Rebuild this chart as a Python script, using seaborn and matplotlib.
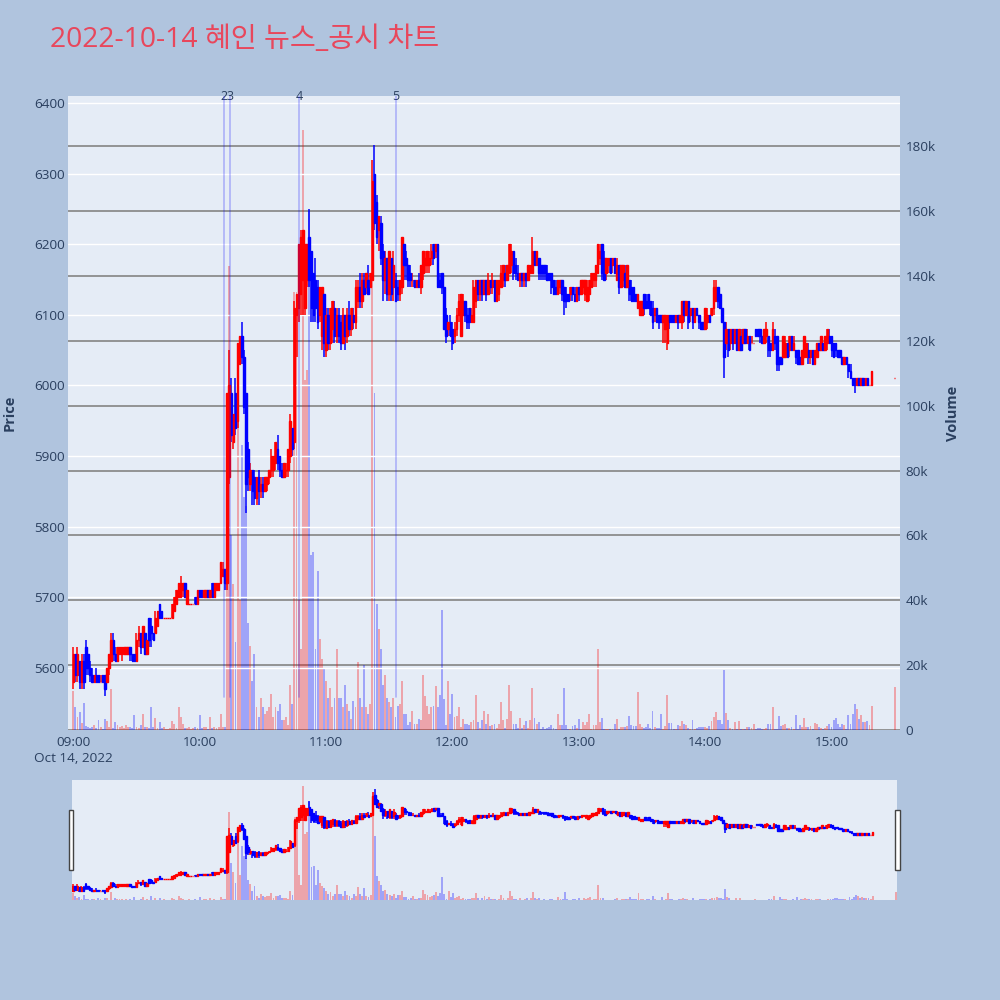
import numpy as np
import pandas as pd
import matplotlib
matplotlib.use("Agg")
import matplotlib.pyplot as plt
from matplotlib.patches import Rectangle
import seaborn as sns

TITLE = "2022-10-14 혜인 뉴스_공시 차트"

# one candle per minute from 09:00 to 15:19, then the 15:30 closing auction
opens = [
    5580, 5620, 5590, 5610, 5580, 5610, 5630, 5620, 5600, 5590,
    5580, 5590, 5590, 5580, 5590, 5590, 5580, 5600, 5610, 5640,
    5620, 5610, 5620, 5620, 5620, 5620, 5620, 5630, 5620, 5620,
    5610, 5640, 5650, 5630, 5650, 5620, 5670, 5660, 5650, 5650,
    5660, 5690, 5680, 5670, 5670, 5670, 5670, 5670, 5680, 5690,
    5700, 5700, 5710, 5720, 5690, 5690, 5690, 5690, 5700, 5690,
    5710, 5710, 5700, 5700, 5710, 5700, 5720, 5700, 5710, 5710,
    5720, 5730, 5740, 5720, 5870, 5990, 5920, 5990, 5950, 6030,
    6070, 6040, 5990, 5910, 5860, 5880, 5870, 5840, 5870, 5850,
    5860, 5850, 5860, 5870, 5880, 5880, 5890, 5910, 5900, 5880,
    5870, 5880, 5880, 5900, 5940, 5920, 6100, 6110, 6130, 6150,
    6110, 6150, 6210, 6190, 6160, 6150, 6140, 6100, 6070, 6130,
    6050, 6100, 6060, 6080, 6110, 6070, 6100, 6090, 6060, 6100,
    6070, 6100, 6080, 6100, 6090, 6120, 6140, 6120, 6150, 6140,
    6150, 6140, 6150, 6300, 6260, 6220, 6230, 6190, 6150, 6180,
    6130, 6180, 6140, 6150, 6140, 6130, 6140, 6200, 6180, 6170,
    6160, 6150, 6150, 6140, 6150, 6140, 6160, 6170, 6170, 6170,
    6180, 6200, 6190, 6200, 6150, 6160, 6140, 6100, 6080, 6090,
    6080, 6070, 6080, 6100, 6070, 6100, 6120, 6100, 6110, 6090,
    6090, 6120, 6150, 6130, 6150, 6130, 6150, 6130, 6150, 6140,
    6150, 6120, 6130, 6140, 6150, 6160, 6150, 6160, 6170, 6190,
    6170, 6160, 6150, 6160, 6150, 6160, 6150, 6160, 6160, 6190,
    6170, 6180, 6170, 6170, 6170, 6160, 6160, 6160, 6150, 6140,
    6130, 6140, 6150, 6140, 6130, 6130, 6130, 6140, 6130, 6120,
    6140, 6130, 6140, 6130, 6120, 6130, 6140, 6150, 6150, 6160,
    6180, 6200, 6180, 6160, 6170, 6180, 6170, 6180, 6150, 6170,
    6140, 6150, 6160, 6140, 6150, 6140, 6140, 6130, 6110, 6100,
    6100, 6130, 6120, 6130, 6120, 6110, 6100, 6110, 6100, 6100,
    6090, 6080, 6060, 6100, 6100, 6100, 6090, 6100, 6090, 6090,
    6120, 6100, 6120, 6100, 6110, 6090, 6110, 6100, 6090, 6090,
    6080, 6090, 6100, 6100, 6110, 6120, 6140, 6130, 6110, 6090,
    6060, 6080, 6060, 6080, 6060, 6080, 6050, 6070, 6060, 6080,
    6060, 6070, 6060, 6060, 6080, 6080, 6080, 6070, 6060, 6070,
    6070, 6060, 6050, 6070, 6070, 6040, 6040, 6040, 6040, 6060,
    6050, 6070, 6050, 6050, 6050, 6040, 6030, 6040, 6040, 6050,
    6040, 6050, 6030, 6040, 6060, 6050, 6060, 6050, 6060, 6070,
    6070, 6060, 6060, 6050, 6050, 6040, 6030, 6040, 6030, 6020,
    6010, 6010, 6000, 6010, 6000, 6010, 6000, 6010, 6000, 6000,
    6010,
]
closes = [
    5620, 5590, 5620, 5580, 5610, 5580, 5600, 5600, 5590, 5580,
    5590, 5580, 5580, 5580, 5580, 5570, 5600, 5620, 5640, 5620,
    5610, 5630, 5630, 5630, 5630, 5630, 5630, 5620, 5610, 5610,
    5640, 5650, 5630, 5660, 5620, 5640, 5640, 5650, 5640, 5670,
    5680, 5670, 5670, 5670, 5670, 5670, 5670, 5690, 5700, 5710,
    5720, 5720, 5720, 5700, 5710, 5690, 5690, 5690, 5690, 5710,
    5700, 5700, 5710, 5710, 5700, 5710, 5700, 5720, 5720, 5720,
    5750, 5740, 5720, 5990, 6000, 5930, 5960, 5940, 6060, 6070,
    6040, 5970, 5860, 5870, 5880, 5850, 5840, 5870, 5850, 5860,
    5850, 5870, 5870, 5880, 5900, 5900, 5920, 5890, 5880, 5870,
    5890, 5880, 5910, 5950, 5910, 6110, 6130, 6200, 6210, 6220,
    6200, 6200, 6150, 6110, 6100, 6110, 6090, 6140, 6140, 6060,
    6100, 6060, 6110, 6120, 6070, 6100, 6070, 6060, 6100, 6070,
    6100, 6080, 6110, 6090, 6140, 6140, 6120, 6150, 6130, 6160,
    6130, 6160, 6290, 6230, 6210, 6240, 6180, 6150, 6180, 6130,
    6190, 6130, 6170, 6120, 6130, 6150, 6210, 6170, 6170, 6150,
    6150, 6150, 6140, 6150, 6140, 6170, 6190, 6180, 6190, 6180,
    6190, 6180, 6200, 6140, 6140, 6140, 6080, 6070, 6090, 6070,
    6060, 6080, 6100, 6120, 6130, 6120, 6100, 6090, 6090, 6100,
    6140, 6150, 6130, 6150, 6130, 6150, 6130, 6150, 6140, 6150,
    6120, 6150, 6150, 6160, 6170, 6150, 6170, 6200, 6190, 6160,
    6160, 6150, 6160, 6150, 6160, 6150, 6170, 6170, 6190, 6170,
    6190, 6160, 6160, 6160, 6160, 6150, 6150, 6140, 6130, 6130,
    6150, 6150, 6130, 6120, 6120, 6120, 6140, 6130, 6120, 6140,
    6130, 6150, 6150, 6150, 6140, 6150, 6160, 6160, 6170, 6200,
    6190, 6160, 6150, 6180, 6180, 6160, 6180, 6160, 6170, 6140,
    6170, 6170, 6140, 6170, 6130, 6120, 6120, 6120, 6130, 6120,
    6120, 6110, 6110, 6110, 6100, 6090, 6110, 6090, 6090, 6090,
    6100, 6100, 6100, 6090, 6090, 6090, 6100, 6090, 6100, 6120,
    6100, 6120, 6090, 6110, 6090, 6110, 6100, 6090, 6080, 6080,
    6110, 6100, 6090, 6110, 6140, 6140, 6120, 6110, 6090, 6040,
    6080, 6050, 6080, 6060, 6080, 6050, 6080, 6050, 6080, 6060,
    6070, 6050, 6060, 6060, 6070, 6070, 6070, 6060, 6080, 6080,
    6050, 6050, 6080, 6060, 6030, 6030, 6030, 6070, 6060, 6040,
    6070, 6050, 6060, 6040, 6030, 6030, 6050, 6070, 6060, 6040,
    6050, 6030, 6050, 6060, 6050, 6070, 6050, 6070, 6080, 6060,
    6050, 6040, 6050, 6040, 6040, 6030, 6040, 6030, 6020, 6010,
    6000, 6000, 6010, 6000, 6010, 6000, 6010, 6000, 6000, 6020,
    6010,
]
highs = [
    5630, 5620, 5630, 5610, 5620, 5620, 5640, 5620, 5610, 5600,
    5590, 5600, 5590, 5590, 5590, 5590, 5600, 5620, 5650, 5650,
    5630, 5630, 5630, 5630, 5630, 5630, 5630, 5630, 5620, 5620,
    5650, 5660, 5650, 5660, 5650, 5640, 5670, 5670, 5650, 5680,
    5680, 5690, 5680, 5670, 5670, 5670, 5670, 5690, 5700, 5710,
    5720, 5730, 5720, 5720, 5710, 5690, 5690, 5690, 5700, 5710,
    5710, 5710, 5710, 5710, 5710, 5710, 5720, 5720, 5720, 5720,
    5750, 5750, 5740, 5990, 6050, 6010, 5960, 6010, 6060, 6070,
    6090, 6050, 5990, 5920, 5890, 5880, 5880, 5870, 5880, 5870,
    5870, 5870, 5870, 5880, 5910, 5900, 5920, 5930, 5900, 5890,
    5890, 5890, 5910, 5960, 5940, 6120, 6130, 6200, 6220, 6220,
    6200, 6200, 6250, 6190, 6160, 6180, 6150, 6140, 6140, 6130,
    6110, 6110, 6110, 6120, 6120, 6110, 6110, 6100, 6110, 6100,
    6110, 6120, 6110, 6110, 6150, 6150, 6160, 6160, 6160, 6160,
    6170, 6160, 6320, 6340, 6270, 6240, 6240, 6200, 6190, 6180,
    6190, 6180, 6190, 6160, 6150, 6150, 6210, 6200, 6190, 6170,
    6170, 6160, 6150, 6150, 6160, 6170, 6190, 6190, 6190, 6190,
    6200, 6200, 6200, 6200, 6160, 6160, 6140, 6110, 6090, 6100,
    6090, 6090, 6110, 6130, 6130, 6130, 6120, 6110, 6110, 6110,
    6150, 6150, 6150, 6150, 6150, 6150, 6150, 6160, 6150, 6160,
    6150, 6150, 6150, 6170, 6170, 6170, 6170, 6200, 6200, 6190,
    6180, 6170, 6160, 6160, 6160, 6160, 6170, 6170, 6210, 6190,
    6190, 6180, 6170, 6170, 6170, 6170, 6160, 6160, 6150, 6150,
    6150, 6150, 6150, 6140, 6140, 6130, 6140, 6140, 6140, 6140,
    6140, 6150, 6150, 6150, 6150, 6150, 6160, 6160, 6170, 6200,
    6200, 6200, 6190, 6180, 6180, 6180, 6180, 6180, 6180, 6170,
    6170, 6170, 6170, 6170, 6150, 6150, 6140, 6130, 6130, 6120,
    6120, 6130, 6130, 6130, 6120, 6120, 6110, 6110, 6100, 6100,
    6100, 6100, 6100, 6100, 6100, 6100, 6100, 6100, 6100, 6120,
    6120, 6120, 6120, 6110, 6110, 6110, 6110, 6100, 6090, 6090,
    6110, 6110, 6100, 6110, 6150, 6150, 6140, 6130, 6110, 6090,
    6090, 6080, 6080, 6080, 6080, 6080, 6080, 6080, 6080, 6080,
    6080, 6070, 6070, 6060, 6080, 6080, 6080, 6070, 6080, 6090,
    6070, 6060, 6090, 6080, 6070, 6040, 6040, 6070, 6070, 6060,
    6070, 6070, 6070, 6050, 6050, 6040, 6050, 6070, 6060, 6060,
    6050, 6050, 6050, 6060, 6060, 6070, 6060, 6070, 6080, 6080,
    6070, 6060, 6060, 6050, 6050, 6040, 6040, 6040, 6030, 6030,
    6010, 6010, 6010, 6010, 6010, 6010, 6010, 6010, 6000, 6020,
    6010,
]
lows = [
    5570, 5580, 5580, 5570, 5570, 5570, 5590, 5590, 5580, 5580,
    5580, 5580, 5580, 5580, 5580, 5560, 5580, 5590, 5610, 5610,
    5610, 5610, 5620, 5610, 5620, 5620, 5620, 5610, 5610, 5610,
    5610, 5630, 5620, 5630, 5620, 5620, 5630, 5630, 5640, 5650,
    5660, 5670, 5670, 5670, 5670, 5670, 5670, 5670, 5680, 5690,
    5700, 5700, 5700, 5700, 5690, 5690, 5690, 5690, 5690, 5690,
    5700, 5700, 5700, 5700, 5700, 5700, 5700, 5700, 5710, 5710,
    5720, 5730, 5710, 5710, 5860, 5920, 5910, 5930, 5940, 6030,
    6030, 5960, 5820, 5850, 5850, 5830, 5830, 5830, 5830, 5840,
    5840, 5850, 5850, 5860, 5870, 5870, 5880, 5880, 5870, 5870,
    5870, 5870, 5870, 5890, 5900, 5910, 6040, 6090, 6100, 6100,
    6100, 6140, 6140, 6090, 6090, 6090, 6080, 6090, 6050, 6040,
    6040, 6050, 6050, 6060, 6060, 6060, 6060, 6050, 6060, 6050,
    6060, 6070, 6070, 6080, 6080, 6110, 6110, 6110, 6130, 6130,
    6130, 6140, 6150, 6220, 6200, 6190, 6170, 6120, 6130, 6120,
    6120, 6120, 6120, 6120, 6120, 6120, 6130, 6150, 6150, 6140,
    6140, 6140, 6140, 6140, 6140, 6130, 6150, 6160, 6160, 6160,
    6170, 6170, 6180, 6140, 6140, 6130, 6080, 6060, 6070, 6070,
    6050, 6060, 6070, 6090, 6070, 6100, 6090, 6080, 6080, 6090,
    6090, 6110, 6120, 6120, 6120, 6130, 6120, 6130, 6130, 6130,
    6120, 6120, 6120, 6140, 6140, 6140, 6150, 6160, 6160, 6150,
    6150, 6150, 6140, 6140, 6140, 6140, 6150, 6160, 6160, 6170,
    6170, 6150, 6150, 6150, 6150, 6150, 6150, 6130, 6130, 6130,
    6130, 6130, 6120, 6100, 6110, 6120, 6120, 6120, 6120, 6120,
    6120, 6130, 6130, 6120, 6120, 6120, 6140, 6140, 6140, 6160,
    6170, 6150, 6150, 6150, 6160, 6160, 6160, 6160, 6150, 6130,
    6140, 6140, 6140, 6140, 6120, 6120, 6120, 6120, 6110, 6100,
    6100, 6100, 6110, 6110, 6100, 6080, 6090, 6090, 6080, 6090,
    6060, 6060, 6050, 6080, 6090, 6090, 6090, 6080, 6090, 6080,
    6090, 6100, 6080, 6090, 6080, 6090, 6100, 6080, 6080, 6080,
    6080, 6080, 6090, 6100, 6100, 6120, 6110, 6110, 6090, 6010,
    6050, 6040, 6050, 6050, 6060, 6050, 6050, 6050, 6060, 6060,
    6060, 6050, 6060, 6060, 6070, 6070, 6060, 6060, 6060, 6060,
    6040, 6040, 6050, 6050, 6020, 6020, 6030, 6040, 6040, 6040,
    6040, 6050, 6050, 6030, 6030, 6030, 6030, 6040, 6040, 6030,
    6030, 6030, 6030, 6040, 6050, 6050, 6050, 6050, 6050, 6060,
    6040, 6040, 6040, 6040, 6040, 6030, 6030, 6030, 6010, 6010,
    6000, 5990, 6000, 6000, 6000, 6000, 6000, 6000, 6000, 6000,
    6010,
]
volumes = [
    12000, 7000, 4000, 5700, 2300, 8400, 1200, 1000, 600, 1000,
    1500, 500, 3000, 1000, 400, 3500, 2800, 800, 12500, 600,
    2500, 1500, 1000, 1200, 600, 1500, 800, 1000, 500, 4500,
    800, 600, 1500, 5000, 800, 1000, 600, 7200, 800, 3800,
    600, 2500, 500, 1000, 300, 300, 600, 2800, 1700, 600,
    7000, 4000, 1700, 500, 600, 1000, 300, 600, 1000, 500,
    4500, 600, 1000, 1000, 400, 4000, 600, 1000, 500, 800,
    5000, 1000, 1000, 58000, 143000, 60000, 45000, 27000, 100000, 40000,
    88000, 72000, 69000, 33000, 26000, 15000, 23500, 7000, 4000, 10000,
    7000, 5000, 6000, 7000, 11000, 4000, 7000, 6000, 8000, 3000,
    3000, 4000, 1500, 14000, 8000, 135000, 135000, 40000, 25000, 185000,
    108000, 111000, 160000, 54000, 55000, 25000, 49000, 28000, 22000, 19000,
    15000, 10000, 13000, 7000, 10000, 25000, 10000, 10000, 7000, 14000,
    8000, 6000, 3500, 9000, 7000, 21000, 10000, 7000, 20000, 7000,
    5000, 8000, 141000, 104000, 39000, 31000, 25000, 14000, 17000, 10000,
    8500, 7000, 10000, 4000, 7500, 8000, 15000, 5000, 5000, 1500,
    2500, 6000, 2000, 2000, 3500, 3000, 17000, 10500, 7500, 5000,
    7000, 7500, 13500, 7000, 10700, 37000, 9700, 1500, 15000, 5000,
    11000, 4000, 4300, 7000, 1000, 3500, 2000, 2000, 1500, 2500,
    3000, 10700, 2500, 700, 3000, 6000, 2000, 5000, 1200, 1500,
    2000, 500, 2000, 8700, 3000, 500, 3300, 14000, 6000, 2000,
    2000, 700, 3600, 500, 1500, 2800, 700, 3000, 12800, 3800,
    1700, 2500, 300, 1000, 300, 700, 1000, 1500, 500, 300,
    5000, 1500, 1500, 12900, 1500, 300, 300, 1200, 1500, 700,
    3300, 300, 2500, 1500, 2500, 5000, 300, 1500, 1500, 25000,
    2500, 3800, 300, 300, 300, 400, 300, 2000, 3300, 300,
    1000, 1000, 1000, 1200, 4200, 1500, 1200, 1200, 11800, 1700,
    1000, 700, 1000, 2000, 500, 6000, 1000, 700, 700, 5000,
    300, 1200, 10800, 2300, 2300, 300, 300, 1500, 1100, 2800,
    1700, 1500, 700, 300, 3000, 300, 700, 1000, 1000, 1000,
    1000, 700, 1200, 2800, 4000, 5700, 3000, 3000, 2000, 18400,
    5300, 3000, 500, 300, 2500, 300, 2700, 300, 300, 300,
    800, 800, 700, 2000, 300, 700, 700, 300, 300, 500,
    2000, 2000, 7000, 300, 300, 4200, 1300, 1500, 2000, 500,
    700, 1000, 300, 4500, 300, 1500, 1000, 3800, 1000, 1000,
    1200, 300, 2300, 2000, 1000, 500, 300, 700, 1100, 1700,
    900, 3000, 3600, 1700, 900, 1700, 1500, 300, 4500, 2000,
    5000, 8000, 6500, 3500, 4600, 2500, 2500, 2700, 1500, 7300,
    13300,
]
closing_auction = "15:30"

# news / disclosure markers
event_labels = ["2", "3", "4", "5"]
event_times = ["10:11:40", "10:14:25", "10:47:10", "11:33:05"]

price_ticks = [5600, 5700, 5800, 5900, 6000, 6100, 6200, 6300, 6400]
vol_ticks = [0, 20000, 40000, 60000, 80000, 100000, 120000, 140000, 160000, 180000]
vol_tick_labels = ["0", "20k", "40k", "60k", "80k", "100k", "120k", "140k", "160k", "180k"]
hour_labels = ["09:00\nOct 14, 2022", "10:00", "11:00", "12:00", "13:00", "14:00", "15:00"]

BG = "#b0c4de"
PLOT_BG = "#e5ecf6"
RED = "#ff0000"
BLUE = "#0000ff"
FONT = "#2a3f5f"
GRID2 = "#8c8c8c"

sns.set_theme(style="darkgrid")
plt.rcParams["font.family"] = ["Open Sans", "Noto Sans CJK KR", "DejaVu Sans"]

# minutes since 09:00 for every candle
day = "2022-10-14 "
t0 = pd.Timestamp(day + "09:00")
times = pd.date_range(t0, periods=len(opens) - 1, freq="min")
times = times.append(pd.DatetimeIndex([pd.Timestamp(day + closing_auction)]))
x = ((times - t0).total_seconds() / 60).to_numpy()
ev_x = [(pd.Timestamp(day + t) - t0).total_seconds() / 60 for t in event_times]
hour_x = [(pd.Timestamp(day + h.split("\n")[0]) - t0).total_seconds() / 60 for h in hour_labels]

o = np.array(opens, dtype=float)
c = np.array(closes, dtype=float)
h = np.array(highs, dtype=float)
l = np.array(lows, dtype=float)
up = c >= o
cols = np.where(up, RED, BLUE)

vol_df = pd.DataFrame({"minute": x, "volume": volumes,
                       "dir": np.where(up, "up", "down")})

PRICE_LIM = (5512, 6410)
VOL_LIM = (0, 195500)


def draw_chart(ax_p, ax_v):
    # volume bars (back layer)
    sns.histplot(data=vol_df, x="minute", weights="volume", hue="dir",
                 hue_order=["up", "down"], palette={"up": RED, "down": BLUE},
                 discrete=True, shrink=0.9, alpha=0.3, linewidth=0,
                 legend=False, ax=ax_v)
    ax_v.set_ylim(*VOL_LIM)
    ax_v.set_xlabel("")
    ax_v.set_ylabel("")
    # candles (front layer)
    ax_p.vlines(x, l, h, colors=cols, linewidth=1.1, zorder=3)
    ax_p.bar(x, c - o, bottom=o, width=0.7, color=cols, edgecolor=cols,
             linewidth=1.0, zorder=4)
    ax_p.set_ylim(*PRICE_LIM)
    for a in (ax_p, ax_v):
        for s in a.spines.values():
            s.set_visible(False)


fig = plt.figure(figsize=(10, 10), dpi=100, facecolor=BG)

# main chart: price on the left, volume on the right
ax = fig.add_axes([0.068, 0.270, 0.832, 0.634])
axv = ax.twinx()
axv.set_zorder(1)
ax.set_zorder(2)
ax.patch.set_visible(False)
axv.patch.set_visible(True)
axv.set_facecolor(PLOT_BG)

draw_chart(ax, axv)
ax.set_xlim(-2.5, 392.5)

ax.grid(False)
axv.grid(False)
ax.yaxis.grid(True, color="white", linewidth=1.0)
axv.yaxis.grid(True, color=GRID2, linewidth=1.3)

ax.set_yticks(price_ticks)
ax.set_yticklabels([str(p) for p in price_ticks])
axv.set_yticks(vol_ticks)
axv.set_yticklabels(vol_tick_labels)
ax.set_xticks(hour_x)
ax.set_xticklabels(hour_labels, linespacing=1.3)
ax.tick_params(axis="y", length=0, pad=2, labelsize=9.7, labelcolor=FONT)
axv.tick_params(axis="y", length=0, pad=4, labelsize=9.7, labelcolor=FONT)
ax.tick_params(axis="x", length=0, pad=4, labelsize=9.7, labelcolor=FONT)
ax.set_xlabel("")

for ex, lab in zip(ev_x, event_labels):
    ax.axvline(ex, ymin=0.052, ymax=1.0, color=BLUE, alpha=0.25,
               linewidth=1.2, zorder=6)
    ax.text(ex, 1.0, lab, transform=ax.get_xaxis_transform(), ha="center",
            va="center", fontsize=9, color=FONT)

fig.text(0.010, 0.587, "Price", rotation=90, ha="center", va="center",
         fontsize=10.5, fontweight="bold", color=FONT)
fig.text(0.953, 0.587, "Volume", rotation=90, ha="center", va="center",
         fontsize=10.5, fontweight="bold", color=FONT)
fig.text(0.050, 0.960, TITLE, ha="left", va="center", fontsize=20.3,
         color="#e8475c")

# range slider
axs = fig.add_axes([0.072, 0.100, 0.825, 0.120])
axsv = axs.twinx()
axsv.set_zorder(1)
axs.set_zorder(2)
axs.patch.set_visible(False)
axsv.patch.set_visible(True)
axsv.set_facecolor(PLOT_BG)
draw_chart(axs, axsv)
axs.set_xlim(-0.5, 390.5)
for a in (axs, axsv):
    a.grid(False)
    a.set_xticks([])
    a.set_yticks([])
    a.set_xlabel("")

for hx in (0.0685, 0.8950):
    fig.patches.append(Rectangle((hx, 0.130), 0.0045, 0.060,
                                 transform=fig.transFigure, facecolor="white",
                                 edgecolor="#444444", linewidth=1.0, zorder=5))

fig.savefig("out.png", dpi=100, facecolor=BG)
